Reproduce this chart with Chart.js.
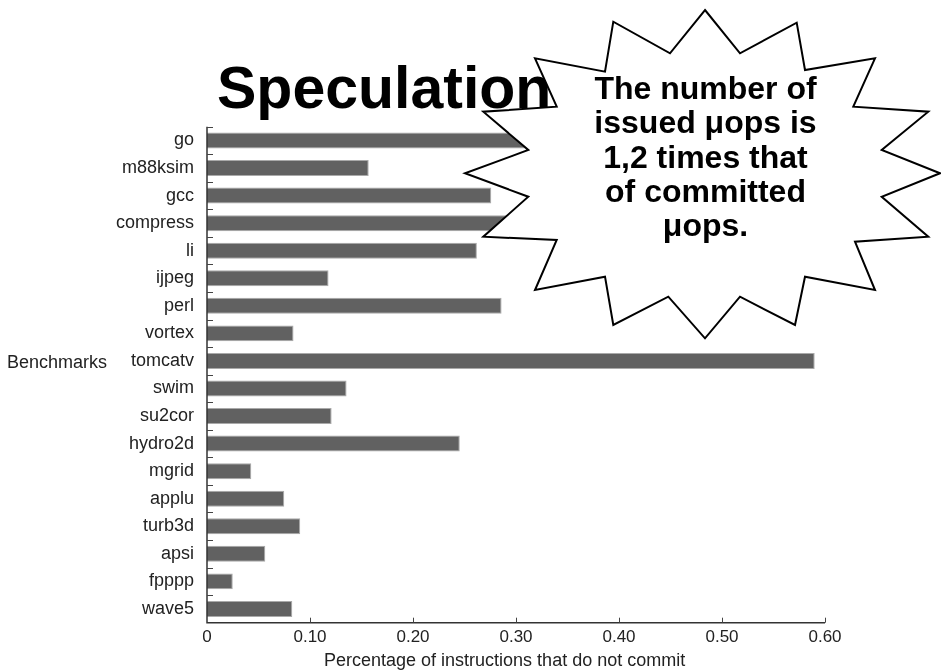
<!DOCTYPE html>
<html>
<head>
<meta charset="utf-8">
<script src="https://cdn.jsdelivr.net/npm/chart.js@4.4.0/dist/chart.umd.min.js"></script>
<style>
  html, body { margin: 0; padding: 0; background: #fff; }
  #wrap { position: relative; width: 941px; height: 671px; overflow: hidden;
          font-family: "Liberation Sans", Arial, Helvetica, sans-serif; }
  #chart { position: absolute; left: 0; top: 0; }
  .txt { position: absolute; white-space: nowrap; line-height: 1; color: #000; }
  #title { left: 217px; top: 58.5px; font-size: 59px; font-weight: bold; }
  #ylab { left: 7px; top: 352.7px; font-size: 18px; color: #222; }
  #xlab { left: 324px; top: 651px; font-size: 18px; color: #222; }
  #burst { position: absolute; left: 0; top: 0; }
  #callout { position: absolute; left: 555px; width: 301px; top: 71.1px; font-size: 32px;
             font-weight: bold; text-align: center; line-height: 34.2px; white-space: nowrap; }
</style>
</head>
<body>
<div id="wrap">
  <canvas id="chart" width="941" height="671"></canvas>
  <div id="title" class="txt">Speculation</div>
  <div id="ylab" class="txt">Benchmarks</div>
  <div id="xlab" class="txt">Percentage of instructions that do not commit</div>
  <svg id="burst" width="941" height="671">
    <polygon fill="#fff" stroke="#000" stroke-width="2" stroke-linejoin="miter"
      points="705,10 740,53.3 796.7,22.7 805,70 875,58.3 853.3,106.7 928.3,111.7 881.7,150 940,173.3 881.7,196.7 928.3,236.7 855,241.7 875,290 805,276.7 795,325 740,296.7 705,338.3 668.3,296.7 613.3,325 605,276.7 535,290 556.7,240 483.3,236.7 528.3,196.7 465,173.3 528.3,150 483.3,111.7 556.7,106.7 535,58.3 605,71.7 613.3,21.7 670,53.3"/>
  </svg>
  <div id="callout">The number of<br>issued μops is<br>1,2 times that<br>of committed<br>μops.</div>
</div>
<script>
// benchmark names, top to bottom
const benchmarks = ['go', 'm88ksim', 'gcc', 'compress', 'li', 'ijpeg', 'perl', 'vortex',
  'tomcatv', 'swim', 'su2cor', 'hydro2d', 'mgrid', 'applu', 'turb3d', 'apsi', 'fpppp', 'wave5'];

// fraction of instructions that do not commit (go / compress partly hidden under the callout)
const notCommitted = [0.33, 0.157, 0.276, 0.30, 0.262, 0.118, 0.286, 0.084,
  0.590, 0.1355, 0.121, 0.2454, 0.043, 0.075, 0.0905, 0.0566, 0.025, 0.0828];

const xMin = 0;
const xMax = 0.6;
const xStep = 0.1;

// axis lines with small ticks pointing into the plot
const axisLines = {
  id: 'axisLines',
  afterDraw(chart) {
    const { ctx, scales: { x, y } } = chart;
    ctx.save();
    ctx.strokeStyle = '#333';
    ctx.lineWidth = 1.5;
    ctx.beginPath();
    ctx.moveTo(x.left, y.top);
    ctx.lineTo(x.left, y.bottom);
    ctx.lineTo(x.right, y.bottom);
    ctx.stroke();

    ctx.lineWidth = 1;
    ctx.strokeStyle = '#444';
    ctx.beginPath();
    for (let i = 0; i < benchmarks.length; i++) {
      const py = Math.round(y.getPixelForValue(i - 0.5)) + 0.5;
      ctx.moveTo(x.left, py);
      ctx.lineTo(x.left + 6, py);
    }
    x.ticks.forEach(t => {
      if (t.value > 0) {
        const px = Math.round(x.getPixelForValue(t.value)) + 0.5;
        ctx.moveTo(px, y.bottom);
        ctx.lineTo(px, y.bottom - 5);
      }
    });
    ctx.stroke();
    ctx.restore();
  }
};

const tickFont = { family: '"Liberation Sans", Arial, Helvetica, sans-serif', size: 18 };

new Chart(document.getElementById('chart').getContext('2d'), {
  type: 'bar',
  data: {
    labels: benchmarks,
    datasets: [{
      data: notCommitted,
      backgroundColor: '#616161',
      borderColor: '#a9a9a9',
      borderWidth: 1,
      barPercentage: 0.58,
      categoryPercentage: 1
    }]
  },
  options: {
    indexAxis: 'y',
    responsive: false,
    animation: false,
    layout: { padding: { top: 126.7, right: 116, left: 0, bottom: 0 } },
    plugins: {
      legend: { display: false },
      tooltip: { enabled: false }
    },
    scales: {
      x: {
        min: xMin,
        max: xMax,
        ticks: {
          stepSize: xStep,
          autoSkip: false,
          maxRotation: 0,
          padding: 4,
          color: '#222',
          font: { family: tickFont.family, size: 17 },
          callback: v => (v === 0 ? '0' : Number(v).toFixed(2))
        },
        grid: { display: false, drawTicks: false },
        border: { display: false },
        afterFit(scale) { scale.height = 48.3; }
      },
      y: {
        ticks: { autoSkip: false, padding: 13, color: '#222', font: tickFont },
        grid: { display: false, drawTicks: false },
        border: { display: false },
        afterFit(scale) { scale.width = 207; }
      }
    }
  },
  plugins: [axisLines]
});
</script>
</body>
</html>
